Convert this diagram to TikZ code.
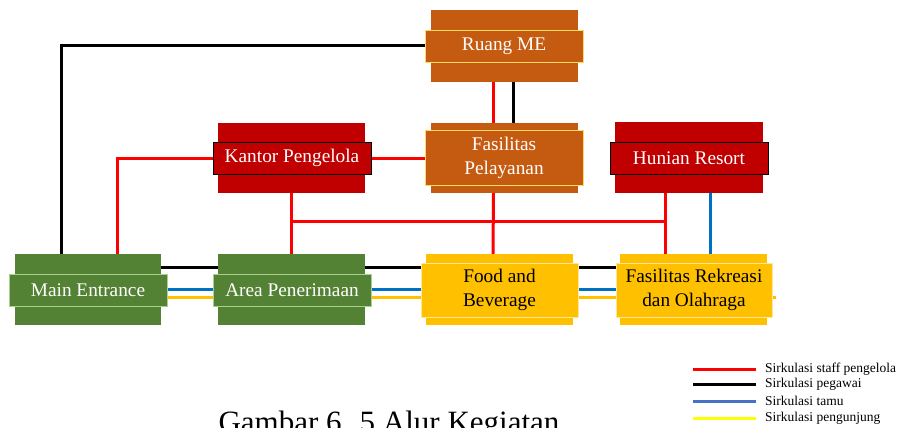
\documentclass[tikz,border=0pt]{standalone}
\usepackage{fontspec}
\setmainfont{Liberation Serif}
\usetikzlibrary{backgrounds}
\definecolor{cgreen}{HTML}{548235}
\definecolor{cgreenb}{HTML}{A9D18E}
\definecolor{cred}{HTML}{C00000}
\definecolor{corange}{HTML}{C55A11}
\definecolor{corangeb}{HTML}{FFD966}
\definecolor{cyel}{HTML}{FFC000}
\definecolor{cyelb}{HTML}{FFE699}
\definecolor{lred}{HTML}{FF0000}
\definecolor{lblue}{HTML}{0070C0}
\definecolor{lblue2}{HTML}{4472C4}
\definecolor{lyel}{HTML}{FFFF00}
\begin{document}
\begin{tikzpicture}[x=1pt,y=-1pt,
  back/.style={draw=none,inner sep=0pt,outer sep=0pt},
  front/.style={inner sep=0pt,outer sep=0pt,line width=0.9pt,align=center,
    font=\fontsize{19.3}{23.5}\selectfont},
  gback/.style={back,fill=cgreen},
  gfront/.style={front,fill=cgreen,draw=cgreenb,text=white},
  rback/.style={back,fill=cred},
  rfront/.style={front,fill=cred,draw=black,text=white},
  oback/.style={back,fill=corange},
  ofront/.style={front,fill=corange,draw=corangeb,text=white},
  yback/.style={back,fill=cyel},
  yfront/.style={front,fill=cyel,draw=cyelb,text=black},
  wr/.style={draw=lred,line width=3pt},
  wk/.style={draw=black,line width=3pt},
  wb/.style={draw=lblue,line width=3pt},
  wy/.style={draw=cyel,line width=3pt},
  legtext/.style={anchor=west,inner sep=0pt,font=\fontsize{13.5}{15}\selectfont}
]
\useasboundingbox (0,0) rectangle (900,428);

% back rectangles
\node[gback,minimum width=146pt,minimum height=71pt] (mainB) at (88,289.5) {};
\node[gback,minimum width=147pt,minimum height=71pt] (areaB) at (291.5,289.5) {};
\node[yback,minimum width=147pt,minimum height=71pt] (foodB) at (499.5,289.5) {};
\node[yback,minimum width=147pt,minimum height=71pt] (rekB) at (693.5,289.5) {};
\node[oback,minimum width=147pt,minimum height=72pt] (meB) at (504.5,46) {};
\node[oback,minimum width=147pt,minimum height=70pt] (pelB) at (504.5,158) {};
\node[rback,minimum width=147pt,minimum height=70pt] (kanB) at (291.5,158) {};
\node[rback,minimum width=148pt,minimum height=71pt] (hunB) at (689,157.5) {};

% front rectangles
\node[gfront,minimum width=158pt,minimum height=32pt] (mainF) at (88,290) {Main Entrance};
\node[gfront,minimum width=158pt,minimum height=32pt] (areaF) at (292,290) {Area Penerimaan};
\node[yfront,minimum width=157pt,minimum height=54pt] (foodF) at (499.5,290) {Food and\\Beverage};
\node[yfront,minimum width=156pt,minimum height=54pt] (rekF) at (694,290) {Fasilitas Rekreasi\\dan Olahraga};
\node[ofront,minimum width=158pt,minimum height=32pt] (meF) at (504,46) {Ruang ME};
\node[ofront,minimum width=158pt,minimum height=55pt] (pelF) at (504,158) {Fasilitas\\Pelayanan};
\node[rfront,minimum width=158pt,minimum height=32pt] (kanF) at (292,158) {Kantor Pengelola};
\node[rfront,minimum width=158pt,minimum height=32pt] (hunF) at (689,158) {Hunian Resort};

\coordinate (j1) at (291.5,221);
\coordinate (j2) at (665,221);
\coordinate (yend) at (776,297);

% connectors (behind boxes)
\begin{pgfonlayer}{background}
\draw[wk] ([xshift=-27pt]mainB.north) |- (meF.west);
\draw[wr] ([xshift=29pt]mainB.north) |- (kanF.west);
\draw[wr] (kanF.east) -- (pelF.west);
\draw[wr] ([xshift=-11pt]meB.south) -- ([xshift=-11pt]pelB.north);
\draw[wk] ([xshift=9pt]meB.south) -- ([xshift=9pt]pelB.north);
\draw[wr] (kanB.south) -- (areaB.north);
\draw[wr] (j1) -- (j2);
\draw[wr] ([xshift=-11pt]pelB.south) -- ([xshift=-6.5pt]foodB.north);
\draw[wr] ([xshift=-24pt]hunB.south) -- ([xshift=-28.5pt]rekB.north);
\draw[wb] ([xshift=21pt]hunB.south) -- ([xshift=16.5pt]rekB.north);
% horizontal flows
\draw[wk] ([yshift=22.5pt]mainB.east) -- ([yshift=22.5pt]areaB.west);
\draw[wk] ([yshift=22.5pt]areaB.east) -- ([yshift=23pt]foodF.west);
\draw[wk] ([yshift=23pt]foodF.east) -- ([yshift=23pt]rekF.west);
\draw[wb] ([yshift=1pt]mainF.east) -- ([yshift=1pt]areaF.west);
\draw[wb] ([yshift=1pt]areaF.east) -- ([yshift=1pt]foodF.west);
\draw[wb] ([yshift=1pt]foodF.east) -- ([yshift=1pt]rekF.west);
\draw[wy] ([yshift=-7pt]mainF.east) -- ([yshift=-7pt]areaF.west);
\draw[wy] ([yshift=-7pt]areaF.east) -- ([yshift=-7pt]foodF.west);
\draw[wy] ([yshift=-7pt]foodF.east) -- ([yshift=-7pt]rekF.west);
\draw[wy] ([yshift=-7pt]rekF.east) -- (yend);
\end{pgfonlayer}

% legend
\node[legtext] (l1) at (765,369) {Sirkulasi staff pengelola};
\node[legtext] (l2) at (765,384) {Sirkulasi pegawai};
\node[legtext] (l3) at (765,401) {Sirkulasi tamu};
\node[legtext] (l4) at (765,418) {Sirkulasi pengunjung};
\draw[draw=lred,line width=3pt] ([xshift=-72pt]l1.west) -- ([xshift=-9pt]l1.west);
\draw[draw=black,line width=3pt] ([xshift=-72pt]l2.west) -- ([xshift=-9pt]l2.west);
\draw[draw=lblue2,line width=3pt] ([xshift=-72pt]l3.west) -- ([xshift=-9pt]l3.west);
\draw[draw=lyel,line width=3pt] ([xshift=-72pt]l4.west) -- ([xshift=-9pt]l4.west);

% caption (cut off at the lower edge, as in the reference)
\node[anchor=base,inner sep=0pt,font=\fontsize{31}{34}\selectfont] (cap) at (389,432.5) {Gambar 6. 5 Alur Kegiatan};
\end{tikzpicture}
\end{document}
